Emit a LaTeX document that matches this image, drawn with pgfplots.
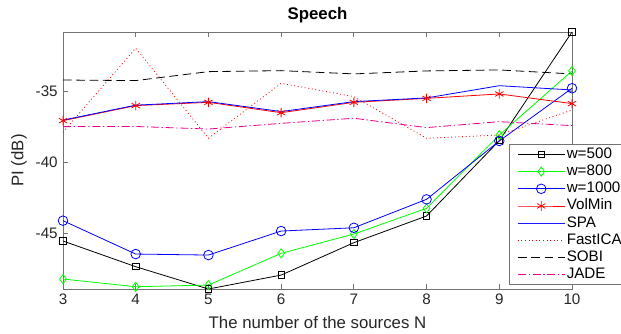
\documentclass[border=0pt]{standalone}
\usepackage{fontspec}
\setmainfont{Liberation Sans}
\usepackage{pgfplots}
\pgfplotsset{compat=1.18}
\definecolor{axgray}{gray}{0.45}
\definecolor{txtgray}{gray}{0.15}
\definecolor{spablue}{rgb}{0.1,0.1,1}
\begin{document}
\fontsize{11.4}{13}\selectfont
\begin{tikzpicture}
\useasboundingbox (-47.25pt,-33pt) rectangle (418.5pt,216.75pt);
\begin{axis}[
  scale only axis, width=381.75pt, height=192.75pt,
  at={(0,0)}, anchor=south west,
  xmin=3, xmax=10, ymin=-48.94, ymax=-30.85,
  xtick={3,4,5,6,7,8,9,10}, xticklabels={3,4,5,6,7,8,9,10},
  ytick={-45,-40,-35}, yticklabels={-45,-40,-35},
  tick align=inside, major tick length=4pt,
  ticklabel style={font=\fontsize{11.4}{13}\selectfont, text=txtgray},
  axis line style={axgray, line width=0.6pt}, tick style={axgray, line width=0.6pt},
  every axis title shift=0pt,
  title={Speech},
  title style={at={(axis description cs:0.5,1.066)}, anchor=center, font=\bfseries\fontsize{12.6}{14}\selectfont, text=black},
  xlabel={The number of the sources N},
  xlabel style={at={(axis description cs:0.5,-0.1284)}, anchor=center, text=txtgray, font=\fontsize{12.6}{14}\selectfont},
  ylabel={PI (dB)},
  ylabel style={at={(axis description cs:-0.0864,0.5)}, anchor=center, text=txtgray, font=\fontsize{12.6}{14}\selectfont},
  clip=false,
  every axis plot/.append style={line width=0.6pt},
  legend cell align=left,
  legend style={at={(rel axis cs:0.876,0.564)}, anchor=north west, fill=white,
    font=\fontsize{11.4}{13}\selectfont,
    nodes={text height=8.2pt, text depth=2.3pt, inner sep=1.2pt}, row sep=0pt,
    inner xsep=6pt, inner ysep=1pt},
  every axis legend/.append style={draw=axgray, line width=0.6pt},
  legend image code/.code={\draw[mark repeat=2,mark phase=2] plot coordinates {(0pt,0pt) (17.5pt,0pt) (35pt,0pt)};},
]
\addlegendimage{black, line width=0.6pt, mark=square, mark size=2.4pt, mark options={solid}}
\addlegendentry{w=500}
\addlegendimage{green, line width=0.6pt, mark=diamond, mark size=3.4pt, mark options={solid}}
\addlegendentry{w=800}
\addlegendimage{blue, line width=0.6pt, mark=o, mark size=3.6pt, mark options={solid}}
\addlegendentry{w=1000}
\addlegendimage{red, line width=0.6pt, mark=asterisk, mark size=3.6pt, mark options={solid}}
\addlegendentry{VolMin}
\addlegendimage{legend image code/.code={\draw[color=spablue, line width=0.9pt] (0pt,0pt) -- (35pt,0pt);}}
\addlegendentry{SPA}
\addlegendimage{red, line width=0.6pt, dash pattern=on 0.7pt off 2pt}
\addlegendentry{FastICA}
\addlegendimage{black, line width=0.6pt, dash pattern=on 6.5pt off 3.5pt}
\addlegendentry{SOBI}
\addlegendimage{magenta, line width=0.6pt, dash pattern=on 6pt off 2pt on 1pt off 2pt}
\addlegendentry{JADE}

\addplot[forget plot, black, mark=square, mark size=2.4pt, mark options={solid}] coordinates {
 (3,-45.56) (4,-47.37) (5,-48.94) (6,-47.96) (7,-45.68) (8,-43.8) (9,-38.5) (10,-30.85)};
\addplot[forget plot, green, mark=diamond, mark size=3.4pt, mark options={solid}] coordinates {
 (3,-48.24) (4,-48.78) (5,-48.66) (6,-46.43) (7,-45.07) (8,-43.26) (9,-38.1) (10,-33.59)};
\addplot[forget plot, blue, mark=o, mark size=3.6pt, mark options={solid}] coordinates {
 (3,-44.13) (4,-46.48) (5,-46.55) (6,-44.86) (7,-44.63) (8,-42.63) (9,-38.52) (10,-34.81)};
\addplot[forget plot, red, mark=asterisk, mark size=3.6pt, mark options={solid}] coordinates {
 (3,-37.09) (4,-36.03) (5,-35.8) (6,-36.53) (7,-35.8) (8,-35.52) (9,-35.21) (10,-35.89)};
\addplot[forget plot, blue, solid] coordinates {
 (3,-37.05) (4,-36.0) (5,-35.75) (6,-36.45) (7,-35.75) (8,-35.49) (9,-34.63) (10,-34.93)};
\addplot[forget plot, red, dash pattern=on 0.7pt off 2pt] coordinates {
 (3,-37.9) (4,-31.99) (5,-38.33) (6,-34.46) (7,-35.4) (8,-38.33) (9,-38.1) (10,-36.34)};
\addplot[forget plot, black, dash pattern=on 6.5pt off 3.5pt] coordinates {
 (3,-34.23) (4,-34.27) (5,-33.64) (6,-33.57) (7,-33.8) (8,-33.59) (9,-33.52) (10,-33.8)};
\addplot[forget plot, magenta, dash pattern=on 6pt off 2pt on 1pt off 2pt] coordinates {
 (3,-37.51) (4,-37.5) (5,-37.68) (6,-37.28) (7,-36.92) (8,-37.58) (9,-37.16) (10,-37.44)};
\end{axis}
\end{tikzpicture}
\end{document}
